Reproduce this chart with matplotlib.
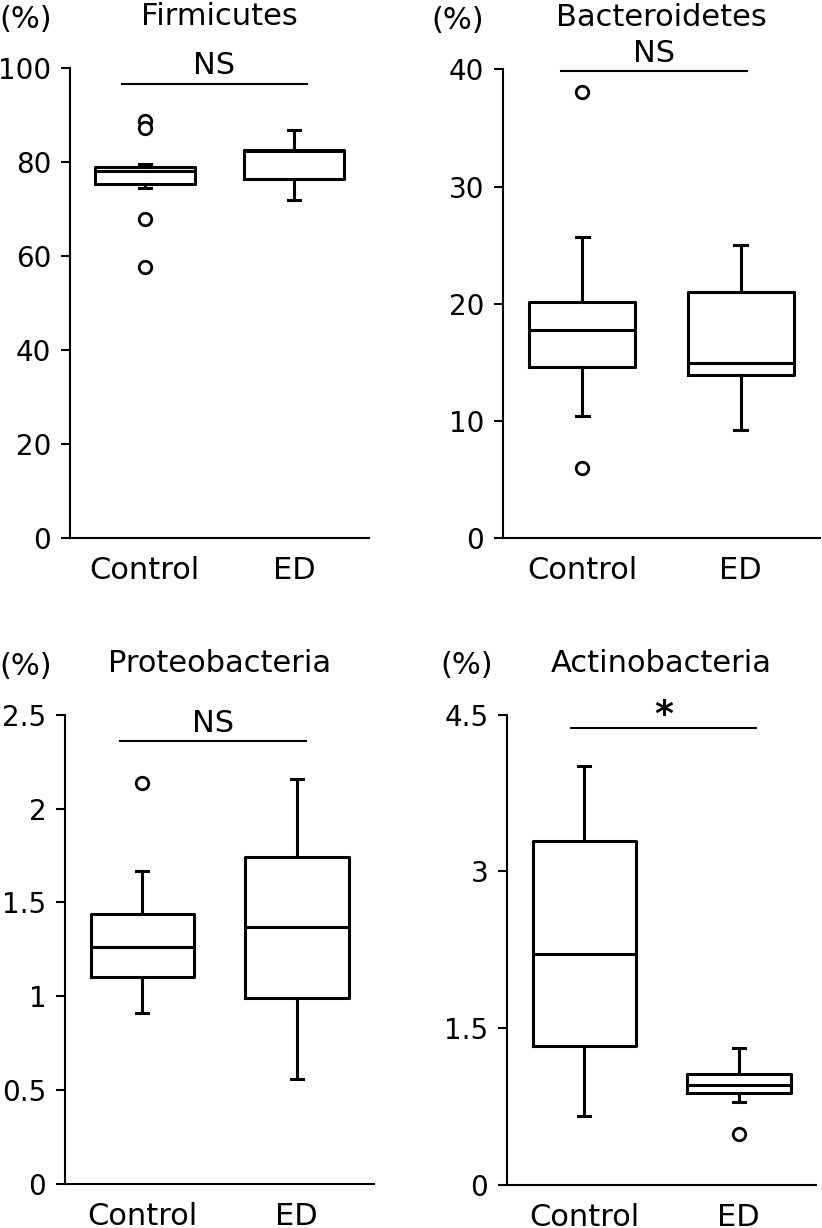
import matplotlib
matplotlib.use("Agg")
import matplotlib.pyplot as plt

groups = ["Control", "ED"]

# box stats: q1, median, q3, whisker low, whisker high, outliers
firm_q1 = [75.3, 76.3]
firm_med = [78.1, 82.3]
firm_q3 = [79.0, 82.6]
firm_lo = [74.5, 71.9]
firm_hi = [79.6, 86.8]
firm_out = [[88.8, 87.2, 67.9, 57.6], []]

bact_q1 = [14.6, 13.9]
bact_med = [17.8, 14.95]
bact_q3 = [20.2, 21.05]
bact_lo = [10.4, 9.2]
bact_hi = [25.7, 25.0]
bact_out = [[38.1, 6.0], []]

prot_q1 = [1.10, 0.99]
prot_med = [1.26, 1.37]
prot_q3 = [1.44, 1.74]
prot_lo = [0.91, 0.56]
prot_hi = [1.67, 2.16]
prot_out = [[2.14], []]

acti_q1 = [1.325, 0.875]
acti_med = [2.21, 0.955]
acti_q3 = [3.29, 1.063]
acti_lo = [0.66, 0.789]
acti_hi = [4.01, 1.312]
acti_out = [[], [0.485]]

firm_ticks = [0, 20, 40, 60, 80, 100]
firm_labels = ["0", "20", "40", "60", "80", "100"]
bact_ticks = [0, 10, 20, 30, 40]
bact_labels = ["0", "10", "20", "30", "40"]
prot_ticks = [0, 0.5, 1, 1.5, 2, 2.5]
prot_labels = ["0", "0.5", "1", "1.5", "2", "2.5"]
acti_ticks = [0, 1.5, 3, 4.5]
acti_labels = ["0", "1.5", "3", "4.5"]

FS = 22
TFS = 20
LW = 2.2


def make_stats(q1, med, q3, lo, hi, out):
    stats = []
    for i in range(len(groups)):
        stats.append({"q1": q1[i], "med": med[i], "q3": q3[i],
                      "whislo": lo[i], "whishi": hi[i],
                      "fliers": out[i], "label": groups[i]})
    return stats


def panel(rect, title, stats, ticks, labels, sig, bar, pct_x):
    ax = fig.add_axes(rect)
    props = dict(color="black", linewidth=LW)
    ax.bxp(stats, positions=[0.5, 1.5], widths=0.67, capwidths=0.08,
           boxprops=props, medianprops=props, whiskerprops=props,
           capprops=props,
           flierprops=dict(marker="o", markerfacecolor="white",
                           markeredgecolor="black", markersize=9,
                           markeredgewidth=2))
    ax.set_xlim(0, 2)
    ax.set_ylim(ticks[0], ticks[-1])
    ax.set_yticks(ticks)
    ax.set_yticklabels(labels)
    ax.spines["top"].set_visible(False)
    ax.spines["right"].set_visible(False)
    ax.spines["left"].set_linewidth(1.5)
    ax.spines["bottom"].set_linewidth(1.5)
    ax.tick_params(axis="y", direction="out", length=6.5, width=1.5,
                   labelsize=TFS, pad=7)
    ax.tick_params(axis="x", length=0, labelsize=FS, pad=13)

    x0, x1, yb = bar
    ax.plot([x0, x1], [yb, yb], color="black", linewidth=1.5, clip_on=False)
    ymin, ymax = ax.get_ylim()
    if sig == "*":
        yt = yb + (ymax - ymin) * 0.026
        ax.text((x0 + x1) / 2, yt, sig, ha="center", va="center",
                fontsize=FS + 4, fontweight="bold")
    else:
        yt = yb + (ymax - ymin) * 0.038
        ax.text((x0 + x1) / 2, yt, sig, ha="center", va="center", fontsize=FS)

    ax.text(0.5, 1.11, title, transform=ax.transAxes, ha="center",
            va="center", fontsize=FS)
    ax.text(pct_x, 1.104, "(%)", transform=ax.transAxes, ha="center",
            va="center", fontsize=FS)
    return ax


fig = plt.figure(figsize=(8.22, 12.28), dpi=100)

panel([0.0852, 0.5619, 0.3637, 0.3827], "Firmicutes",
      make_stats(firm_q1, firm_med, firm_q3, firm_lo, firm_hi, firm_out),
      firm_ticks, firm_labels, "NS", (0.346, 1.583, 96.7), -0.147)
panel([0.6119, 0.5616, 0.3856, 0.3819], "Bacteroidetes",
      make_stats(bact_q1, bact_med, bact_q3, bact_lo, bact_hi, bact_out),
      bact_ticks, bact_labels, "NS", (0.366, 1.537, 39.86), -0.142)
panel([0.0791, 0.0362, 0.3759, 0.3815], "Proteobacteria",
      make_stats(prot_q1, prot_med, prot_q3, prot_lo, prot_hi, prot_out),
      prot_ticks, prot_labels, "NS", (0.356, 1.558, 2.361), -0.126)
panel([0.6168, 0.0353, 0.3759, 0.3827], "Actinobacteria",
      make_stats(acti_q1, acti_med, acti_q3, acti_lo, acti_hi, acti_out),
      acti_ticks, acti_labels, "*", (0.412, 1.612, 4.376), -0.130)

fig.savefig("out.png", dpi=100)
